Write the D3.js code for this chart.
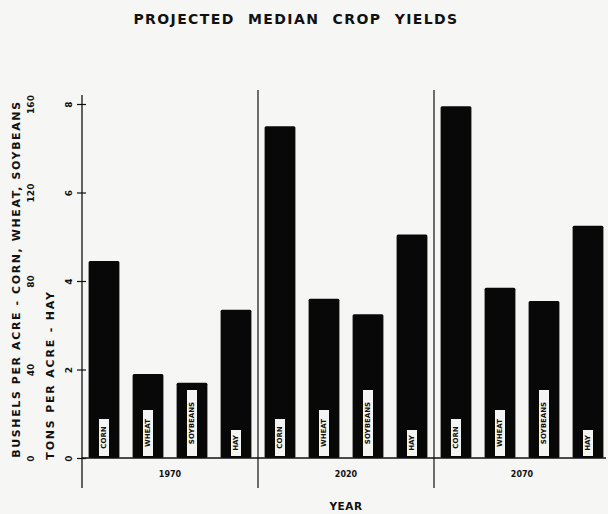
<!DOCTYPE html>
<html>
<head>
<meta charset="utf-8">
<title>Projected Median Crop Yields</title>
<script src="https://d3js.org/d3.v7.min.js"></script>
<style>
  body { margin: 0; background: #f6f6f4; }
  svg { display: block; }
  text { font-family: "DejaVu Sans", "Liberation Sans", sans-serif; font-weight: bold; fill: #111; }
</style>
</head>
<body>
<svg width="608" height="514"></svg>
<script>
// data
var years = ["1970", "2020", "2070"];
var crops = ["CORN", "WHEAT", "SOYBEANS", "HAY"];
var corn = [89, 150, 159];        // bushels per acre
var wheat = [38, 72, 77];         // bushels per acre
var soybeans = [34, 65, 71];      // bushels per acre
var hay = [3.35, 5.05, 5.25];     // tons per acre
var bushelTicks = [0, 40, 80, 120, 160];
var tonTicks = [0, 2, 4, 6, 8];

var svg = d3.select("svg");
var mLeft = 82, mRight = 610, base = 458, yTop = 104;

var x0 = d3.scaleBand().domain(years).range([mLeft, mRight]);
var x1 = d3.scaleBand().domain(crops).range([0, x0.bandwidth()])
    .paddingInner(0.3).paddingOuter(0.15);
var yBu = d3.scaleLinear().domain([0, 160]).range([base, yTop]);
var yTon = d3.scaleLinear().domain([0, 8]).range([base, yTop]);

// build rows for bars
var rows = [];
years.forEach(function(yr, i){
  rows.push({year: yr, crop: "CORN", y: yBu(corn[i])});
  rows.push({year: yr, crop: "WHEAT", y: yBu(wheat[i])});
  rows.push({year: yr, crop: "SOYBEANS", y: yBu(soybeans[i])});
  rows.push({year: yr, crop: "HAY", y: yTon(hay[i])});
});

// title
svg.append("text")
    .attr("x", 296).attr("y", 24)
    .attr("text-anchor", "middle")
    .attr("font-size", 14)
    .style("letter-spacing", "1.4px")
    .style("word-spacing", "7px")
    .text("PROJECTED MEDIAN CROP YIELDS");

// bars
svg.append("g").selectAll("rect")
  .data(rows)
  .enter().append("rect")
    .attr("x", function(d){ return x0(d.year) + x1(d.crop); })
    .attr("y", function(d){ return d.y; })
    .attr("width", x1.bandwidth())
    .attr("height", function(d){ return base - d.y; })
    .attr("rx", 1.5)
    .attr("fill", "#080808");

// labels inside the bars
var labLen = {CORN: 37, WHEAT: 46, SOYBEANS: 66, HAY: 26};
var lab = svg.append("g").selectAll("g")
  .data(rows)
  .enter().append("g")
    .attr("transform", function(d){
      return "translate(" + (x0(d.year) + x1(d.crop) + x1.bandwidth() / 2) + "," + (base - 2) + ") rotate(-90)";
    });
lab.append("rect")
    .attr("x", 0).attr("y", -5)
    .attr("width", function(d){ return labLen[d.crop]; })
    .attr("height", 10)
    .attr("fill", "#f4f4f2");
lab.append("text")
    .attr("x", function(d){ return labLen[d.crop] / 2; })
    .attr("y", 0)
    .attr("dy", "0.35em")
    .attr("text-anchor", "middle")
    .attr("font-size", 7)
    .text(function(d){ return d.crop; });

// baseline
svg.append("line")
    .attr("x1", mLeft).attr("x2", 606)
    .attr("y1", base).attr("y2", base)
    .attr("stroke", "#111").attr("stroke-width", 1.5);

// group dividers
svg.append("g").selectAll("line")
  .data(years.slice(1))
  .enter().append("line")
    .attr("x1", function(d){ return x0(d); })
    .attr("x2", function(d){ return x0(d); })
    .attr("y1", 90).attr("y2", 488)
    .attr("stroke", "#111").attr("stroke-width", 1.2);

// left axis (tons)
var ax = svg.append("g")
    .attr("transform", "translate(" + mLeft + ",0)")
    .call(d3.axisLeft(yTon).tickValues(tonTicks).tickSizeInner(5).tickSizeOuter(0));
ax.select(".domain").remove();
ax.selectAll("line").attr("stroke", "#111").attr("x2", -5).attr("x1", 4).attr("stroke-width", 1.2);
ax.selectAll("text")
    .attr("x", null).attr("dy", "0.35em")
    .attr("text-anchor", "middle")
    .attr("font-size", 9)
    .attr("transform", "translate(-13,0) rotate(-90)");
svg.append("line")
    .attr("x1", mLeft).attr("x2", mLeft)
    .attr("y1", 95).attr("y2", 488)
    .attr("stroke", "#111").attr("stroke-width", 1.3);

// outer labels (bushels)
var ab = svg.append("g")
    .attr("transform", "translate(" + mLeft + ",0)")
    .call(d3.axisLeft(yBu).tickValues(bushelTicks).tickSize(0));
ab.select(".domain").remove();
ab.selectAll("text")
    .attr("x", null).attr("dy", "0.35em")
    .attr("text-anchor", "middle")
    .attr("font-size", 9)
    .attr("transform", "translate(-51,0) rotate(-90)");

// axis titles
svg.append("text")
    .attr("transform", "translate(16,279) rotate(-90)")
    .attr("dy", "0.35em")
    .attr("text-anchor", "middle")
    .attr("font-size", 11)
    .style("letter-spacing", "1.6px")
    .text("BUSHELS  PER  ACRE - CORN, WHEAT, SOYBEANS");
svg.append("text")
    .attr("transform", "translate(50,375) rotate(-90)")
    .attr("dy", "0.35em")
    .attr("text-anchor", "middle")
    .attr("font-size", 11)
    .style("letter-spacing", "1.8px")
    .text("TONS  PER  ACRE - HAY");

// year labels
svg.append("g").selectAll("text")
  .data(years)
  .enter().append("text")
    .attr("x", function(d){ return x0(d) + x0.bandwidth() / 2; })
    .attr("y", 477)
    .attr("text-anchor", "middle")
    .attr("font-size", 8)
    .text(function(d){ return d; });

svg.append("text")
    .attr("x", 346).attr("y", 510)
    .attr("text-anchor", "middle")
    .attr("font-size", 10.5)
    .style("letter-spacing", "0.5px")
    .text("YEAR");
</script>
</body>
</html>
